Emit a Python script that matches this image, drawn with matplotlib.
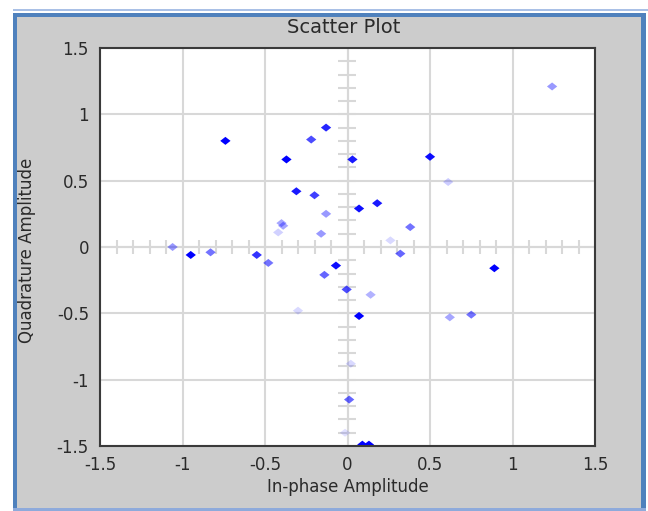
import numpy as np
import matplotlib
matplotlib.use("Agg")
import matplotlib.pyplot as plt
from matplotlib.patches import Rectangle
from matplotlib.path import Path

plt.rcParams['font.family'] = ['DejaVu Sans']
plt.rcParams['axes.unicode_minus'] = False

# Constellation samples: in-phase (I), quadrature (Q) and display intensity
i_vals = [-0.74, -0.37, -0.22, -0.13, -0.31, -0.20, -0.13, -0.40, -0.39, -0.42,
          -0.16, -1.06, -0.95, -0.83, -0.55, -0.48, -0.14, -0.07, -0.005, 0.03,
          0.50, 0.61, 0.07, 0.18, 0.38, 0.26, 0.32, 0.14, 0.07, 0.62,
          0.75, 0.89, 1.24, -0.30, 0.02, 0.01, -0.015, 0.09, 0.13]
q_vals = [0.80, 0.66, 0.81, 0.90, 0.42, 0.39, 0.25, 0.18, 0.16, 0.11,
          0.10, 0.00, -0.06, -0.04, -0.06, -0.12, -0.21, -0.14, -0.32, 0.66,
          0.68, 0.49, 0.29, 0.33, 0.15, 0.05, -0.05, -0.36, -0.52, -0.53,
          -0.51, -0.16, 1.21, -0.48, -0.88, -1.15, -1.40, -1.49, -1.49]
intensity = [1.0, 1.0, 0.7, 0.85, 0.9, 0.75, 0.4, 0.35, 0.35, 0.18,
             0.4, 0.4, 1.0, 0.55, 0.8, 0.55, 0.6, 0.95, 0.7, 0.9,
             0.95, 0.2, 0.95, 0.9, 0.55, 0.15, 0.6, 0.3, 1.0, 0.35,
             0.55, 1.0, 0.4, 0.15, 0.15, 0.6, 0.12, 1.0, 1.0]

tick_vals = [-1.5, -1.0, -0.5, 0.0, 0.5, 1.0, 1.5]
tick_labels = ["-1.5", "-1", "-0.5", "0", "0.5", "1", "1.5"]
minor_vals = [v / 10 for v in range(-14, 15) if v != 0]

W, H = 648, 511
fig = plt.figure(figsize=(W / 100, H / 100), dpi=100, facecolor='white')


def fx(x):
    return x / W


def fy(y):
    return 1 - y / H


def frect(x0, y0, x1, y1, color, z):
    fig.patches.append(Rectangle((fx(x0), fy(y1)), fx(x1) - fx(x0), fy(y0) - fy(y1),
                                 transform=fig.transFigure, facecolor=color,
                                 edgecolor='none', zorder=z))


# window frame: blue border with a grey panel
frect(13, 13, 646, 511, '#4f81bd', -2)
frect(17, 17, 641, 508, '#cccccc', -1)
frect(13, 508, 646, 511, '#8eaadb', -1)
frect(13, 9.5, 648, 11, '#a9c0e6', -1)

ax = fig.add_axes([fx(100), fy(446), fx(595) - fx(100), fy(48) - fy(446)])
ax.set_facecolor('white')
ax.set_xlim(-1.5, 1.5)
ax.set_ylim(-1.5, 1.5)
ax.set_xticks(tick_vals)
ax.set_yticks(tick_vals)
ax.set_xticklabels(tick_labels)
ax.set_yticklabels(tick_labels)
ax.tick_params(length=0, labelsize=12, labelcolor='#2a2a2a')
ax.tick_params(axis='x', pad=7)
ax.tick_params(axis='y', pad=8)
for sp in ax.spines.values():
    sp.set_color('#3a3a3a')
    sp.set_linewidth(1.5)
    sp.set_zorder(5)

grid_c = '#d8d8d8'
ax.grid(True, color=grid_c, linewidth=1.5, zorder=0)
ax.set_axisbelow(True)

# central cross axes with 0.1 ticks
ax.axhline(0, color=grid_c, linewidth=1.5, zorder=1)
ax.axvline(0, color=grid_c, linewidth=1.5, zorder=1)
ax.vlines(minor_vals, -0.05, 0.05, color=grid_c, linewidth=1.5, zorder=1)
ax.hlines(minor_vals, -0.06, 0.05, color=grid_c, linewidth=1.5, zorder=1)

diamond = Path([(-1, 0), (0, 0.78), (1, 0), (0, -0.78), (-1, 0)],
               [Path.MOVETO, Path.LINETO, Path.LINETO, Path.LINETO, Path.CLOSEPOLY])
colors = [(0, 0, 1, a) for a in intensity]
ax.scatter(i_vals, q_vals, s=55, marker=diamond, c=colors, linewidths=0, zorder=3)

fig.text(fx(343.5), fy(33), "Scatter Plot", ha='center', va='baseline',
         fontsize=14, color='#2a2a2a', zorder=3)
fig.text(fx(347.5), fy(492), "In-phase Amplitude", ha='center', va='baseline',
         fontsize=12, color='#2a2a2a')
fig.text(fx(27.5), fy(250), "Quadrature Amplitude", ha='center', va='center',
         rotation=90, fontsize=12, color='#2a2a2a')

fig.savefig("out.png", dpi=100, facecolor=fig.get_facecolor())
